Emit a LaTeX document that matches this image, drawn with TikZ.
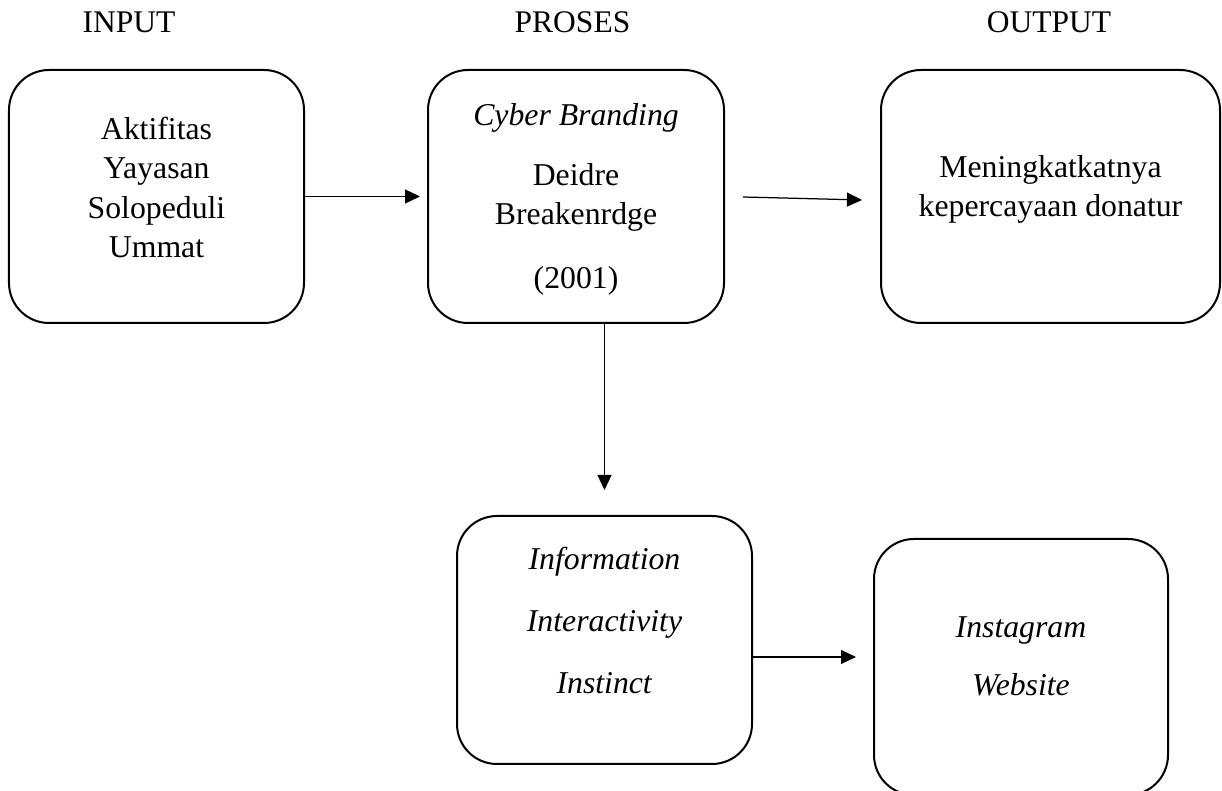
\documentclass[tikz,border=0pt]{standalone}
\usepackage{fontspec}
\setmainfont{Liberation Serif}
\usetikzlibrary{arrows.meta}

\tikzset{
  kotak/.style={draw, line width=0.8pt, rounded corners=16pt, align=center,
    font=\fontsize{12.7}{15.8}\selectfont, inner sep=0pt},
  judul/.style={anchor=base, font=\fontsize{12.6}{14}\selectfont},
  panah/.style={->, line width=0.5pt},
}

\begin{document}
\begin{tikzpicture}[x=0.4pt, y=-0.4pt, >={Triangle[length=6pt, width=5.6pt]}]
  \useasboundingbox (0,0) rectangle (1222,791);
  % judul kolom
  \node[judul] (tInput) at (129,33) {INPUT};
  \node[judul] (tProses) at (572.5,33) {PROSES};
  \node[judul] (tOutput) at (1049,33) {OUTPUT};
  % kotak atas
  \node[kotak, minimum width=118pt, minimum height=101.2pt, text depth=7.2pt] (input) at (156.5,196.5)
    {Aktifitas\\Yayasan\\Solopeduli\\Ummat};
  \node[kotak, minimum width=118.4pt, minimum height=101.2pt, text depth=0.4pt] (proses) at (576,196.5)
    {\textit{Cyber Branding}\\[8.2pt]Deidre\\Breakenrdge\\[9.8pt](2001)};
  \node[kotak, minimum width=135.6pt, minimum height=101.2pt, text depth=8.6pt] (output) at (1050.5,196.5)
    {Meningkatkatnya\\kepercayaan donatur};
  % kotak bawah
  \node[kotak, minimum width=118pt, minimum height=99.2pt, text depth=16pt] (dimensi) at (604.5,640)
    {\textit{Information}\\[9pt]\textit{Interactivity}\\[9pt]\textit{Instinct}};
  \node[kotak, minimum width=117.6pt, minimum height=102.4pt, text depth=8.4pt] (media) at (1021,667)
    {\textit{Instagram}\\[7.4pt]\textit{Website}};
  % panah
  \coordinate (ujung1) at (420,196.5);
  \draw[panah] (input.east) -- (ujung1);
  \coordinate (pangkal2) at (743,197);
  \coordinate (ujung2) at (862,200);
  \draw[panah] (pangkal2) -- (ujung2);
  \coordinate (ujung3) at (604.5,490);
  \draw[panah] (proses.south -| dimensi.north) -- (ujung3);
  \coordinate (ujung4) at (856,657);
  \draw[panah] (dimensi.east |- ujung4) -- (ujung4);
\end{tikzpicture}
\end{document}
